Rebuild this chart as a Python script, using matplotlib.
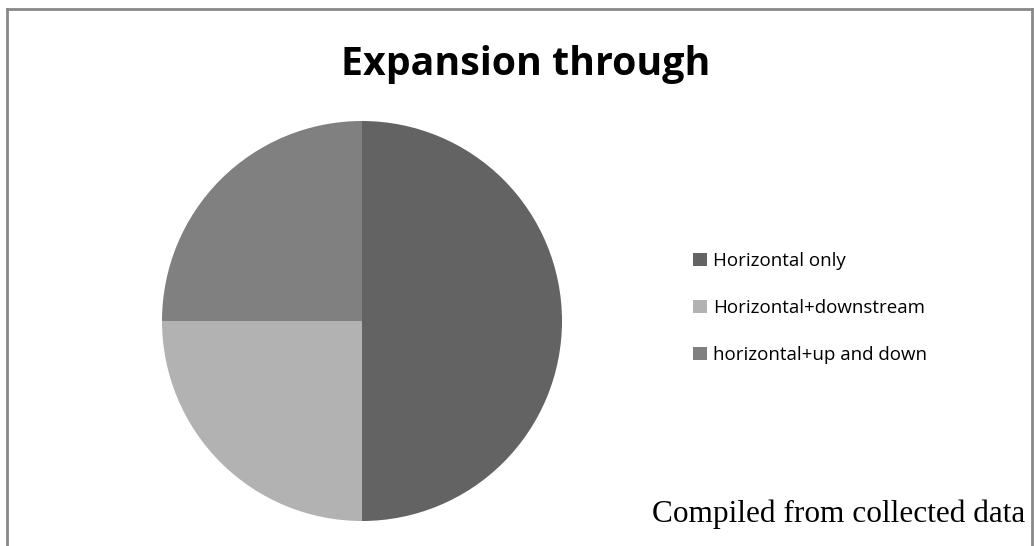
import matplotlib.pyplot as plt
from matplotlib.lines import Line2D

labels = ['Horizontal only', 'Horizontal+downstream', 'horizontal+up and down']
shares = [50, 25, 25]
colors = ['#636363', '#b2b2b2', '#808080']

W, H = 1035, 546
fig = plt.figure(figsize=(W / 100, H / 100), dpi=100)

# pie centred at (362, 321) px, radius 200 px
ax = fig.add_axes([(362 - 200) / W, (H - 321 - 200) / H, 400 / W, 400 / H])
wedges, _ = ax.pie(shares, colors=colors, startangle=90, counterclock=False,
                   radius=1, wedgeprops=dict(linewidth=0))
ax.set_xlim(-1, 1)
ax.set_ylim(-1, 1)
ax.set_aspect('equal')
ax.axis('off')

leg = fig.legend(wedges, labels, loc='center left',
                 bbox_to_anchor=(685 / W, 1 - 308 / H), frameon=False,
                 prop={'family': 'Open Sans', 'size': 13.5},
                 handlelength=0.75, handleheight=0.75, handletextpad=0.35,
                 labelspacing=1.55, borderaxespad=0)

fig.text(526 / W, 1 - 75 / H, 'Expansion through', ha='center', va='baseline',
         fontsize=28.3, fontweight='bold', family='Open Sans')
fig.text(1025 / W, 1 - 522 / H, 'Compiled from collected data', ha='right',
         va='baseline', fontsize=22.5, family='Liberation Serif')

# outer frame
frame_kw = dict(color='#898989', linewidth=2, transform=fig.transFigure)
x0, x1, y0 = 7 / W, 1032 / W, 1 - 9 / H
fig.add_artist(Line2D([x0, x1], [y0, y0], **frame_kw))
fig.add_artist(Line2D([x0, x0], [0, y0], **frame_kw))
fig.add_artist(Line2D([x1, x1], [0, y0], **frame_kw))

fig.savefig('out.png', dpi=100)
